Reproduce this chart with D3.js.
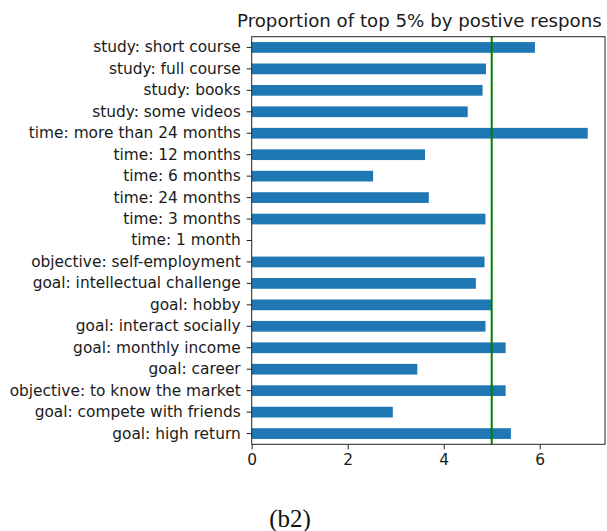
<!DOCTYPE html>
<html><head><meta charset="utf-8">
<script src="https://cdn.jsdelivr.net/npm/d3@7"></script>
<style>body{margin:0;background:#fff}svg{display:block}</style>
</head><body>
<script>
const categories = [
  "study: short course","study: full course","study: books","study: some videos",
  "time: more than 24 months","time: 12 months","time: 6 months","time: 24 months",
  "time: 3 months","time: 1 month","objective: self-employment","goal: intellectual challenge",
  "goal: hobby","goal: interact socially","goal: monthly income","goal: career",
  "objective: to know the market","goal: compete with friends","goal: high return"
];
const values = [5.90,4.88,4.81,4.50,7.00,3.61,2.53,3.69,4.87,0,4.85,4.67,5.00,4.87,5.29,3.45,5.29,2.94,5.40];
const xTicks = [0,2,4,6];
const threshold = 5;
const xMax = 7.36;
const titleText = "Proportion of top 5% by postive respons";
const caption = "(b2)";

const W = 607, H = 531;
const m = {left:251.7, right:605, top:36.7, bottom:444.3};
const svg = d3.select("body").append("svg").attr("width",W).attr("height",H);
const font = "'DejaVu Sans', sans-serif";

const x = d3.scaleLinear().domain([0,xMax]).range([m.left,m.right]);
const y = d3.scaleBand().domain(categories).range([m.top,m.bottom]).paddingInner(0.5).paddingOuter(0.25);

svg.append("g").selectAll("rect").data(categories).join("rect")
  .attr("x",x(0)).attr("y",d=>y(d))
  .attr("width",(d,i)=>x(values[i])-x(0))
  .attr("height",y.bandwidth())
  .attr("fill","#1f77b4");

svg.append("line").attr("x1",x(threshold)).attr("x2",x(threshold))
  .attr("y1",m.top).attr("y2",m.bottom).attr("stroke","#008000").attr("stroke-width",2);

const yAxis = svg.append("g").attr("transform",`translate(${m.left},0)`)
  .call(d3.axisLeft(y).tickSize(5).tickPadding(6));
yAxis.select(".domain").remove();
yAxis.selectAll("text").style("font-family",font).style("font-size","15.4px").attr("fill","#1a1a1a");
yAxis.selectAll("line").attr("stroke","#222");

const xAxis = svg.append("g").attr("transform",`translate(0,${m.bottom})`)
  .call(d3.axisBottom(x).tickValues(xTicks).tickFormat(d3.format("d")).tickSize(5).tickPadding(5));
xAxis.select(".domain").remove();
xAxis.selectAll("text").style("font-family",font).style("font-size","15.4px").attr("fill","#1a1a1a");
xAxis.selectAll("line").attr("stroke","#222");

svg.append("rect").attr("x",m.left).attr("y",m.top)
  .attr("width",m.right-m.left).attr("height",m.bottom-m.top)
  .attr("fill","none").attr("stroke","#222").attr("stroke-width",1);

svg.append("text").attr("x",237).attr("y",27.3)
  .style("font-family",font).style("font-size","18.2px").attr("fill","#1a1a1a").text(titleText);

svg.append("text").attr("x",290).attr("y",527).attr("text-anchor","middle")
  .style("font-family","'Liberation Serif', 'Times New Roman', serif").style("font-size","25px")
  .attr("fill","#111").text(caption);
</script>
</body></html>
